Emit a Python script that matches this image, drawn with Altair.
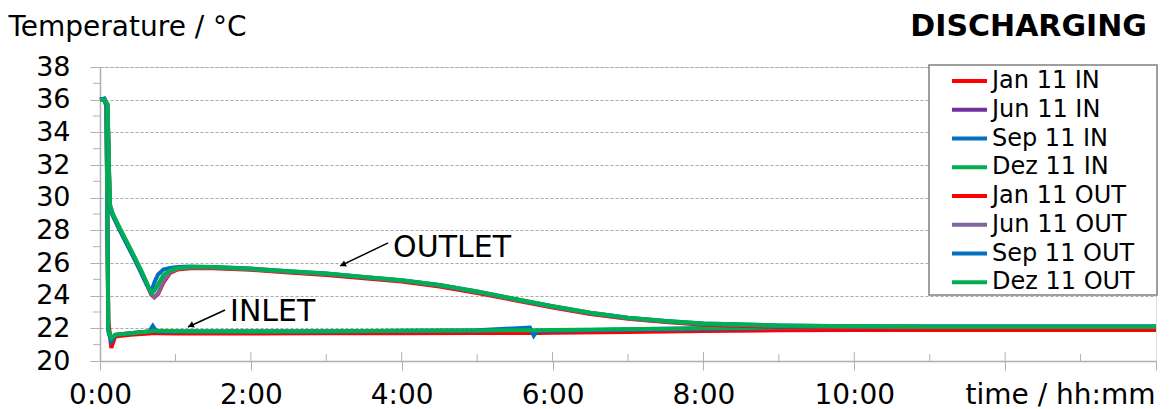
import altair as alt
import pandas as pd

FONT = "DejaVu Sans"
W, H = 1056, 294

SERIES = ["Jan 11 IN", "Jun 11 IN", "Sep 11 IN", "Dez 11 IN",
          "Jan 11 OUT", "Jun 11 OUT", "Sep 11 OUT", "Dez 11 OUT"]
COLORS = ["#FF0000", "#7030A0", "#0070C0", "#00B050",
          "#FF0000", "#8064A2", "#0070C0", "#00B050"]

# time in hours
IN_T = [0, 0.05, 0.085, 0.11, 0.15, 0.2, 0.4, 0.65, 0.7, 0.75, 1.0, 2.0, 3.0,
        4.0, 5.0, 5.7, 5.75, 5.8, 6.0, 7.0, 8.0, 9.0, 10.0, 12.0, 14.0]
JAN_IN = [36.0, 36.0, 35.8, 22.5, 20.8, 21.5, 21.6, 21.68, 21.72, 21.7, 21.68, 21.68, 21.7,
          21.7, 21.72, 21.72, 21.72, 21.72, 21.73, 21.78, 21.84, 21.88, 21.9, 21.9, 21.9]
JUN_IN = [36.0, 36.05, 35.8, 22.0, 21.3, 21.6, 21.7, 21.8, 21.9, 21.8, 21.8, 21.8, 21.8,
          21.82, 21.85, 21.92, 21.8, 21.82, 21.85, 21.9, 21.95, 22.0, 22.0, 22.0, 22.0]
SEP_IN = [36.0, 36.05, 35.6, 21.8, 21.2, 21.6, 21.7, 21.8, 22.15, 21.8, 21.8, 21.8, 21.8,
          21.85, 21.88, 22.05, 21.55, 21.85, 21.85, 21.95, 22.0, 22.05, 22.05, 22.05, 22.05]
DEZ_IN = [36.0, 36.0, 35.8, 21.9, 21.4, 21.6, 21.7, 21.8, 21.85, 21.85, 21.82, 21.8, 21.82,
          21.85, 21.87, 21.88, 21.88, 21.88, 21.9, 21.95, 22.0, 22.05, 22.05, 22.05, 22.05]

OUT_T = [0, 0.06, 0.1, 0.13, 0.17, 0.25, 0.35, 0.45, 0.55, 0.62, 0.68, 0.72, 0.77, 0.84,
         0.93, 1.03, 1.2, 1.5, 2.0, 2.5, 3.0, 3.5, 4.0, 4.5, 5.0, 5.5, 6.0, 6.5, 7.0, 7.5,
         8.0, 9.0, 10.0, 11.0, 12.0, 13.0, 14.0]
JAN_OUT = [36.0, 36.0, 35.7, 29.5, 28.9, 28.15, 27.25, 26.35, 25.4, 24.7, 24.05, 23.9, 24.1, 24.8,
           25.4, 25.6, 25.68, 25.68, 25.58, 25.42, 25.26, 25.06, 24.86, 24.56, 24.16, 23.72,
           23.28, 22.88, 22.58, 22.38, 22.22, 22.08, 22.0, 21.97, 21.96, 21.96, 21.96]
JUN_OUT = [36.0, 36.05, 35.7, 29.6, 29.0, 28.2, 27.3, 26.4, 25.45, 24.75, 24.1, 23.92, 24.15,
           24.9, 25.45, 25.65, 25.72, 25.72, 25.62, 25.47, 25.32, 25.12, 24.92, 24.62, 24.22,
           23.77, 23.32, 22.92, 22.62, 22.42, 22.27, 22.15, 22.1, 22.08, 22.08, 22.08, 22.08]
SEP_OUT = [36.0, 36.05, 35.5, 29.4, 28.9, 28.1, 27.2, 26.3, 25.35, 24.65, 24.25, 24.8, 25.3, 25.6,
           25.7, 25.75, 25.78, 25.76, 25.66, 25.5, 25.35, 25.15, 24.95, 24.65, 24.25, 23.8,
           23.35, 22.95, 22.65, 22.45, 22.3, 22.18, 22.13, 22.12, 22.12, 22.12, 22.12]
DEZ_OUT = [36.0, 36.0, 35.7, 29.6, 29.0, 28.25, 27.35, 26.45, 25.5, 24.8, 24.15, 24.3, 24.7, 25.25,
           25.55, 25.7, 25.75, 25.75, 25.65, 25.5, 25.35, 25.15, 24.95, 24.65, 24.25, 23.8,
           23.35, 22.95, 22.65, 22.45, 22.3, 22.18, 22.12, 22.1, 22.1, 22.1, 22.1]

Y_MAJOR = [20, 22, 24, 26, 28, 30, 32, 34, 36, 38]
Y_MINOR = [21, 23, 25, 27, 29, 31, 33, 35, 37]
X_MAJOR = [0, 2, 4, 6, 8, 10, 12, 14]
X_MINOR = [1, 3, 5, 7, 9, 11, 13]

ANNOT_LABELS = ["OUTLET", "INLET"]
ANNOT_T = [3.886, 1.724]
ANNOT_TEMP = [26.37, 22.45]
ARROW_T0 = [3.82, 1.658]
ARROW_TEMP0 = [27.23, 23.12]
ARROW_T1 = [3.183, 1.167]
ARROW_TEMP1 = [25.82, 22.08]
HEAD_T = [3.231, 1.215]
HEAD_TEMP = [25.92, 22.19]

series_data = [(JAN_IN, IN_T), (JUN_IN, IN_T), (SEP_IN, IN_T), (DEZ_IN, IN_T),
               (JAN_OUT, OUT_T), (JUN_OUT, OUT_T), (SEP_OUT, OUT_T), (DEZ_OUT, OUT_T)]
rows = []
for name, (vals, ts) in zip(SERIES, series_data):
    for t, v in zip(ts, vals):
        rows.append({"series": name, "hours": t, "temp": v})
df = pd.DataFrame(rows)

x_scale = alt.Scale(domain=[0, 14], nice=False, zero=False)
y_scale = alt.Scale(domain=[20, 38], nice=False, zero=False)

x_axis = alt.Axis(values=X_MAJOR, grid=False, labelOverlap=False,
                  labelExpr="datum.value <= 10 ? format(datum.value, 'd') + ':00' : ''",
                  labelFont=FONT, labelFontSize=28, labelColor="black",
                  labelBaseline="alphabetic", labelPadding=33, labelFlush=False,
                  tickSize=9, tickColor="#b0b0b0", domainColor="#b0b0b0", domainWidth=1.5,
                  title="time / hh:mm", titleFont=FONT, titleFontSize=28,
                  titleFontWeight="normal", titleColor="black", titleAlign="right",
                  titleBaseline="alphabetic", titleX=W - 1, titleY=42)
y_axis = alt.Axis(values=Y_MAJOR, grid=True, gridDash=[3, 2], gridColor="#a8a8a8",
                  labelOverlap=False, labelFlush=False,
                  labelFont=FONT, labelFontSize=27, labelColor="black",
                  labelPadding=20, tickSize=10, tickColor="#b0b0b0",
                  domainColor="#b0b0b0", domainWidth=1.5,
                  title="Temperature / °C", titleFont=FONT, titleFontSize=28,
                  titleFontWeight="normal", titleColor="black", titleAngle=0,
                  titleAlign="left", titleBaseline="alphabetic", titleX=-92, titleY=-32)

X = lambda f="hours:Q": alt.X(f, scale=x_scale, axis=x_axis)
Y = lambda f="temp:Q": alt.Y(f, scale=y_scale, axis=y_axis)

lines = alt.Chart(df).mark_line(strokeWidth=4).encode(
    x=X(), y=Y(),
    color=alt.Color("series:N", scale=alt.Scale(domain=SERIES, range=COLORS), sort=SERIES,
                    legend=alt.Legend(orient="none", legendX=850, legendY=2, title=None,
                                      symbolType="stroke", symbolSize=1225,
                                      symbolStrokeWidth=4, labelFont=FONT,
                                      labelFontSize=24, labelColor="black",
                                      labelOffset=3, clipHeight=24, rowPadding=4.75,
                                      padding=0, labelLimit=300)),
)

legend_box = alt.Chart().mark_rect(fill="white", stroke="#808080", strokeWidth=1.5).encode(
    x=alt.value(829), x2=alt.value(1057), y=alt.value(-2), y2=alt.value(228))

heading = alt.Chart().mark_text(text="DISCHARGING", font=FONT, fontSize=30, fontWeight="bold",
                                color="black", align="right", baseline="alphabetic").encode(
    x=alt.value(W - 9), y=alt.value(-31))

ymin_df = pd.DataFrame({"temp": Y_MINOR})
y_minor = alt.Chart(ymin_df).mark_rule(color="#b0b0b0", strokeWidth=1).encode(
    y=Y(), x=alt.value(-7), x2=alt.value(0))
xmin_df = pd.DataFrame({"hours": X_MINOR})
x_minor = alt.Chart(xmin_df).mark_rule(color="#b0b0b0", strokeWidth=1).encode(
    x=X(), y=alt.value(H - 7), y2=alt.value(H))
xmaj_df = pd.DataFrame({"hours": X_MAJOR[1:-1]})
x_major_in = alt.Chart(xmaj_df).mark_rule(color="#b0b0b0", strokeWidth=1).encode(
    x=X(), y=alt.value(H - 9), y2=alt.value(H))

ann_df = pd.DataFrame({"label": ANNOT_LABELS, "hours": ANNOT_T, "temp": ANNOT_TEMP})
ann_text = alt.Chart(ann_df).mark_text(font=FONT, fontSize=30, align="left",
                                       baseline="alphabetic", color="black").encode(
    x=X(), y=Y(), text="label:N")
arr_df = pd.DataFrame({"hours": ARROW_T0, "temp": ARROW_TEMP0,
                       "hours2": ARROW_T1, "temp2": ARROW_TEMP1})
arrows = alt.Chart(arr_df).mark_rule(color="black", strokeWidth=1.5).encode(
    x=X(), y=Y(), x2="hours2:Q", y2="temp2:Q")
head_df = pd.DataFrame({"hours": HEAD_T, "temp": HEAD_TEMP})
heads = alt.Chart(head_df).mark_point(shape="triangle", angle=245, size=45, filled=True,
                                      color="black", opacity=1).encode(
    x=X(), y=Y())

chart = alt.layer(
    lines, y_minor, x_minor, x_major_in, legend_box, arrows, heads, ann_text, heading
).properties(
    width=W, height=H,
    autosize=alt.AutoSizeParams(type="none"),
    padding={"left": 92, "top": 59, "right": 5, "bottom": 48},
).configure_view(stroke="#808080", strokeWidth=1.2).configure(background="white")

chart.save("out.html", embed_options={"renderer": "svg", "actions": False})
